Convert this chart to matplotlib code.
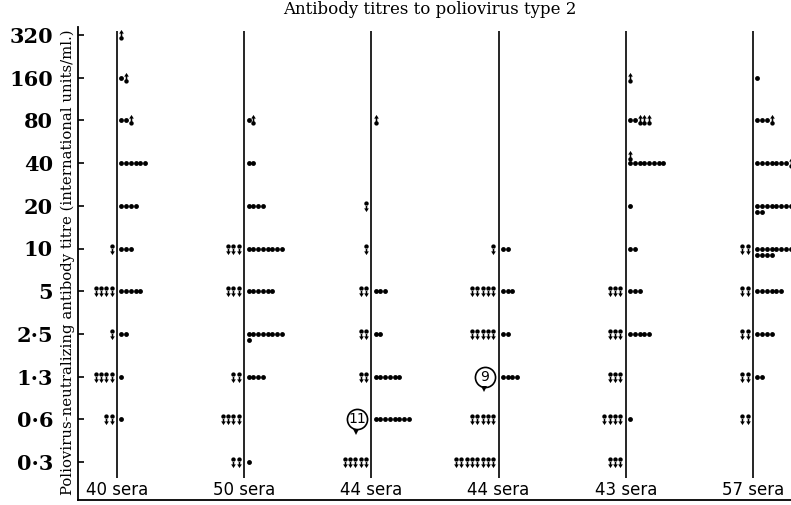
import numpy as np
import matplotlib
matplotlib.use("Agg")
import matplotlib.pyplot as plt
from matplotlib.path import Path
from matplotlib import transforms

# ---------------- data ----------------
levels = ["0·3", "0·6", "1·3", "2·5", "5", "10", "20", "40", "80", "160", "320"]
group_labels = ["40 sera", "50 sera", "44 sera", "44 sera", "43 sera", "57 sera"]

# counts per level (index 0 = 0.3 ... 10 = 320)
# below: titre below level (down arrows, left of line)
# dots: titre at level (dots, right of line)
# above: titre above level (up arrows, right of line)
g1_below = [0, 2, 4, 1, 4, 1, 0, 0, 0, 0, 0]
g1_dots  = [0, 1, 1, 2, 5, 3, 4, 6, 2, 1, 0]
g1_above = [0, 0, 0, 0, 0, 0, 0, 0, 1, 1, 1]

g2_below = [2, 4, 2, 0, 3, 3, 0, 0, 0, 0, 0]
g2_dots  = [1, 0, 4, 9, 6, 8, 4, 2, 1, 0, 0]
g2_above = [0, 0, 0, 0, 0, 0, 0, 0, 1, 0, 0]

g3_below = [5, 0, 2, 2, 2, 1, 1, 0, 0, 0, 0]
g3_dots  = [0, 8, 6, 2, 3, 0, 0, 0, 0, 0, 0]
g3_above = [0, 0, 0, 0, 0, 0, 0, 0, 1, 0, 0]

g4_below = [8, 5, 0, 5, 5, 1, 0, 0, 0, 0, 0]
g4_dots  = [0, 0, 4, 2, 3, 2, 0, 0, 0, 0, 0]
g4_above = [0, 0, 0, 0, 0, 0, 0, 0, 0, 0, 0]

g5_below = [3, 4, 3, 3, 3, 0, 0, 0, 0, 0, 0]
g5_dots  = [0, 1, 0, 5, 3, 2, 1, 8, 2, 0, 0]
g5_above = [0, 0, 0, 0, 0, 0, 0, 1, 3, 1, 0]

g6_below = [0, 2, 2, 2, 2, 2, 0, 0, 0, 0, 0]
g6_dots  = [0, 0, 2, 4, 6, 12, 10, 7, 3, 1, 0]
g6_above = [0, 0, 0, 0, 0, 0, 0, 1, 1, 0, 0]

row_wrap = [9, 8, 9, 9, 8, 8]

# circled totals of sera below a level
circle_group = [2, 3]
circle_level = [1, 2]
circle_count = [11, 9]

below_all = [g1_below, g2_below, g3_below, g4_below, g5_below, g6_below]
dots_all = [g1_dots, g2_dots, g3_dots, g4_dots, g5_dots, g6_dots]
above_all = [g1_above, g2_above, g3_above, g4_above, g5_above, g6_above]

# ---------------- markers ----------------
def arrow_marker(up=False):
    circ = Path.circle((0, 0.26), 0.2)
    poly_v = [(-0.07, 0.07), (0.07, 0.07), (0.07, -0.17), (0.21, -0.17),
              (0, -0.5), (-0.21, -0.17), (-0.07, -0.17), (-0.07, 0.07)]
    if up:
        poly_v = [(x, -y) for x, y in poly_v]
        circ = Path.circle((0, -0.26), 0.2)
    codes = [Path.MOVETO] + [Path.LINETO] * (len(poly_v) - 2) + [Path.CLOSEPOLY]
    poly = Path(poly_v, codes)
    return Path.make_compound_path(circ, poly)

down_m = arrow_marker(False)
up_m = arrow_marker(True)

# ---------------- figure ----------------
W, H = 791, 505
fig = plt.figure(figsize=(W / 100, H / 100), dpi=100)
ax = fig.add_axes([78 / W, 5 / H, (W - 78) / W, (500 - 27) / H])

px_per_group = 127.2
px_per_level = 42.7
ax.set_xlim(-(117 - 78) / px_per_group, 5 + (W - 753) / px_per_group)
ax.set_ylim(-(500 - 462) / px_per_level, 10 + (35 - 27) / px_per_level)

dot_step = 4.75 / px_per_group
dot_first = 4.3 / px_per_group
arr_step = 5.3 / px_per_group
arr_first = 5.5 / px_per_group
row2_dy = 6.0 / px_per_level

for gi in range(6):
    ax.plot([gi, gi], [-0.37, 10.1], color="black", lw=1.2, solid_capstyle="butt")
    below, dots, above = below_all[gi], dots_all[gi], above_all[gi]
    wrap = row_wrap[gi]
    bx, by, dx, dy, ux, uy = [], [], [], [], [], []
    for li in range(len(levels)):
        for k in range(below[li]):
            bx.append(gi - arr_first - k * arr_step)
            by.append(li)
        items = ["d"] * dots[li] + ["u"] * above[li]
        for k, kind in enumerate(items):
            row, pos = divmod(k, wrap)
            x = gi + dot_first + pos * dot_step
            if kind == "d":
                dx.append(x)
                dy.append(li - row * row2_dy)
            else:
                ux.append(x)
                uy.append(li + row * row2_dy * 1.2)
    ax.plot(bx, by, ls="none", marker=down_m, ms=8, mfc="black", mec="black", mew=0,
            clip_on=False)
    ax.plot(dx, dy, ls="none", marker="o", ms=3.5, mfc="black", mec="black", mew=0,
            clip_on=False)
    ax.plot(ux, uy, ls="none", marker=up_m, ms=8, mfc="black", mec="black", mew=0,
            clip_on=False)
    ax.text(gi, -(490 - 462) / px_per_level, group_labels[gi], ha="center", va="center",
            fontsize=12, family="DejaVu Sans")

for g, lv, n in zip(circle_group, circle_level, circle_count):
    cx = g - 14 / px_per_group
    ax.plot([cx], [lv], ls="none", marker="o", ms=14.5, mfc="white", mec="black", mew=1.2)
    ax.text(cx, lv, str(n), ha="center", va="center", fontsize=10, family="DejaVu Sans")
    tr = transforms.offset_copy(ax.transData, fig=fig, x=-1, y=-12.5, units="dots")
    ax.plot([cx], [lv], ls="none", marker="v", ms=5, mfc="black", mec="black",
            mew=0, transform=tr)

ax.set_yticks(range(len(levels)))
ax.set_yticklabels(levels, family="DejaVu Serif", fontsize=15, fontweight="bold")
ax.tick_params(axis="y", direction="in", length=4, width=1.2, pad=18)
ax.set_xticks([])
for s in ["top", "right"]:
    ax.spines[s].set_visible(False)
ax.spines["left"].set_linewidth(1.3)
ax.spines["bottom"].set_linewidth(1.3)

fig.text(68 / W, 1 - 262 / H, "Poliovirus-neutralizing antibody titre (international units/ml.)",
         rotation=90, ha="center", va="center", fontsize=10.7, family="DejaVu Serif")
fig.text(430 / W, 1 - 10 / H, "Antibody titres to poliovirus type 2",
         ha="center", va="center", fontsize=12, family="DejaVu Serif")

fig.savefig("out.png", dpi=100)
